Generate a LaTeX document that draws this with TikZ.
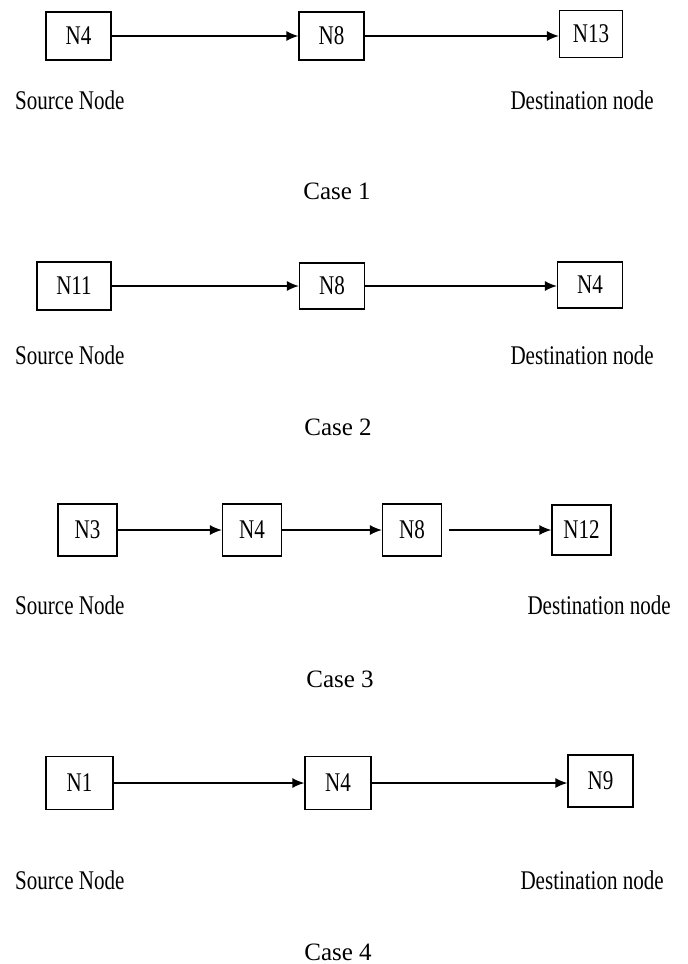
\documentclass[tikz,border=0pt]{standalone}
\usepackage{fontspec}
\setmainfont{Liberation Serif}
\newfontfamily\condfont[FakeStretch=0.78]{Liberation Serif}
\usetikzlibrary{arrows.meta}
\begin{document}
\begin{tikzpicture}[x=1pt,y=-1pt,
  nodebox/.style={draw,line width=1.2pt,inner sep=0pt,font=\condfont\fontsize{27}{30}\selectfont},
  lbl/.style={inner sep=0pt,font=\condfont\fontsize{27}{30}\selectfont},
  caselbl/.style={inner sep=0pt,font=\fontsize{25}{30}\selectfont},
  link/.style={line width=1.5pt,-{Latex[length=12pt,width=10pt]}}]
\useasboundingbox (0,0) rectangle (688,964);
% Case 1
\node[nodebox,minimum width=65pt,minimum height=48pt] (a1) at (78.5,36) {N4};
\node[nodebox,minimum width=65pt,minimum height=48pt] (a2) at (331.5,36) {N8};
\node[nodebox,minimum width=63pt,minimum height=47pt] (a3) at (591,34) {N13};
\draw[link] (a1.east) -- (a1.east -| a2.west);
\draw[link] (a2.east) -- (a2.east -| a3.west);
\node[lbl,anchor=west] (as) at (15,100) {Source Node};
\node[lbl,anchor=east] (ad) at (654,100) {Destination node};
\node[caselbl] (ac) at (337,191) {Case 1};
% Case 2
\node[nodebox,minimum width=74pt,minimum height=48pt] (b1) at (74,286) {N11};
\node[nodebox,minimum width=65pt,minimum height=46pt] (b2) at (332,286) {N8};
\node[nodebox,minimum width=65pt,minimum height=46pt] (b3) at (590,285) {N4};
\draw[link] (b1.east) -- (b1.east -| b2.west);
\draw[link] (b2.east) -- (b2.east -| b3.west);
\node[lbl,anchor=west] (bs) at (15,355) {Source Node};
\node[lbl,anchor=east] (bd) at (654,355) {Destination node};
\node[caselbl] (bc) at (338,427) {Case 2};
% Case 3
\node[nodebox,minimum width=59pt,minimum height=52pt] (c1) at (87.5,530) {N3};
\node[nodebox,minimum width=59pt,minimum height=52pt] (c2) at (252,530) {N4};
\node[nodebox,minimum width=59pt,minimum height=52pt] (c3) at (412,530) {N8};
\node[nodebox,minimum width=59pt,minimum height=50pt] (c4) at (581.5,530) {N12};
\coordinate (cg) at (449,530);
\draw[link] (c1.east) -- (c2.west);
\draw[link] (c2.east) -- (c3.west);
\draw[link] (cg) -- (c4.west);
\node[lbl,anchor=west] (cs) at (15,605) {Source Node};
\node[lbl,anchor=east] (cd) at (671,605) {Destination node};
\node[caselbl] (cc) at (340,679) {Case 3};
% Case 4
\node[nodebox,minimum width=67pt,minimum height=53pt] (d1) at (79.5,783) {N1};
\node[nodebox,minimum width=66pt,minimum height=53pt] (d2) at (338,783) {N4};
\node[nodebox,minimum width=65pt,minimum height=52pt] (d3) at (600.5,781) {N9};
\draw[link] (d1.east) -- (d1.east -| d2.west);
\draw[link] (d2.east) -- (d2.east -| d3.west);
\node[lbl,anchor=west] (ds) at (15,880) {Source Node};
\node[lbl,anchor=east] (dd) at (664,880) {Destination node};
\node[caselbl] (dc) at (338,952) {Case 4};
\end{tikzpicture}
\end{document}
